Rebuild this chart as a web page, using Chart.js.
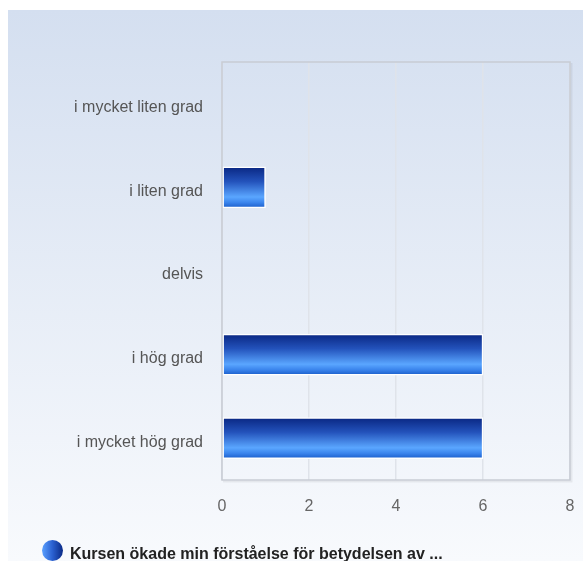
<!DOCTYPE html>
<html>
<head>
<meta charset="utf-8">
<script src="https://cdn.jsdelivr.net/npm/chart.js@4/dist/chart.umd.min.js"></script>
<style>
html,body{margin:0;padding:0;background:#fff;}
#wrap{position:relative;width:583px;height:561px;}
</style>
</head>
<body>
<div id="wrap"><canvas id="c" width="583" height="561"></canvas></div>
<script>
const categories = ["i mycket liten grad", "i liten grad", "delvis", "i hög grad", "i mycket hög grad"];
const seriesValues = [0, 1, 0, 6, 6];
const seriesName = "Kursen ökade min förståelse för betydelsen av ...";
const xTicks = [0, 2, 4, 6, 8];

const FONT = "'Liberation Sans', Arial, sans-serif";

function barGradient(context) {
  const chart = context.chart;
  const y = chart.scales && chart.scales.y;
  if (!y || y.top === undefined) return '#2a5cc0';
  const center = y.getPixelForValue(context.dataIndex);
  const h = 40;
  const g = chart.ctx.createLinearGradient(0, center - h / 2, 0, center + h / 2);
  g.addColorStop(0, '#0a2884');
  g.addColorStop(0.35, '#2352bb');
  g.addColorStop(0.74, '#5aa6ff');
  g.addColorStop(0.88, '#3a84ec');
  g.addColorStop(1, '#1c60cc');
  return g;
}

const bgPlugin = {
  id: 'bg',
  beforeDraw(chart) {
    const ctx = chart.ctx;
    ctx.save();
    const g = ctx.createLinearGradient(0, 10, 0, 561);
    g.addColorStop(0, '#d4dff0');
    g.addColorStop(1, '#f8fafd');
    ctx.fillStyle = g;
    ctx.fillRect(8, 10, 583 - 8, 561 - 10);
    ctx.restore();
  },
  afterDraw(chart) {
    const ctx = chart.ctx;
    const a = chart.chartArea;
    ctx.save();
    // subtle shadow on bottom/right
    ctx.strokeStyle = 'rgba(0,0,0,0.06)';
    ctx.lineWidth = 2;
    ctx.beginPath();
    ctx.moveTo(a.left + 1, a.bottom + 1.5);
    ctx.lineTo(a.right + 1.5, a.bottom + 1.5);
    ctx.lineTo(a.right + 1.5, a.top + 1);
    ctx.stroke();
    ctx.strokeStyle = '#c8ccd4';
    ctx.lineWidth = 1.5;
    ctx.strokeRect(a.left, a.top, a.right - a.left, a.bottom - a.top);
    // legend
    const cx = 52.5, cy = 550.5, r = 10.5;
    const lg = ctx.createLinearGradient(cx - r, 0, cx + r, 0);
    lg.addColorStop(0, '#5aa0ff');
    lg.addColorStop(0.5, '#2a60d0');
    lg.addColorStop(1, '#0a2a86');
    ctx.beginPath();
    ctx.arc(cx, cy, r, 0, Math.PI * 2);
    ctx.fillStyle = lg;
    ctx.fill();
    ctx.fillStyle = '#222';
    ctx.font = "bold 16px " + FONT;
    ctx.textBaseline = 'alphabetic';
    ctx.textAlign = 'left';
    ctx.fillText(seriesName, 70, 559);
    ctx.restore();
  }
};

new Chart(document.getElementById('c'), {
  type: 'bar',
  data: {
    labels: categories,
    datasets: [{
      label: seriesName,
      data: seriesValues,
      backgroundColor: barGradient,
      borderColor: '#ffffff',
      borderWidth: 1.5,
      borderSkipped: false,
      barThickness: 41
    }]
  },
  options: {
    indexAxis: 'y',
    responsive: false,
    animation: false,
    layout: { padding: { top: 62, right: 13, left: 0, bottom: 0 } },
    plugins: { legend: { display: false }, tooltip: { enabled: false } },
    scales: {
      x: {
        min: 0, max: 8,
        afterBuildTicks(scale) { scale.ticks = xTicks.map(v => ({ value: v })); },
        afterFit(scale) { scale.height = 81; scale.paddingRight = 0; scale.paddingLeft = 0; },
        grid: { color: '#dfe3ea', lineWidth: 1.5, drawTicks: false },
        border: { display: false },
        ticks: { color: '#666', font: { family: FONT, size: 16 }, padding: 17 }
      },
      y: {
        afterFit(scale) { scale.width = 222; },
        grid: { display: false, drawTicks: false },
        border: { display: false },
        ticks: { color: '#555', font: { family: FONT, size: 16 }, padding: 19, labelOffset: 4 }
      }
    }
  },
  plugins: [bgPlugin]
});
</script>
</body>
</html>
